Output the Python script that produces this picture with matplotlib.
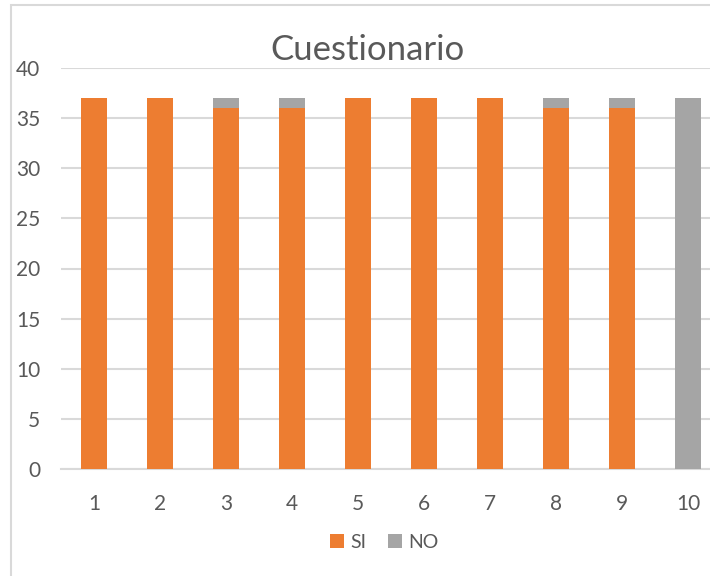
import matplotlib
matplotlib.use("Agg")
import matplotlib.pyplot as plt
from matplotlib.patches import Rectangle
import numpy as np

# data
preguntas = ["1", "2", "3", "4", "5", "6", "7", "8", "9", "10"]
si = [37, 37, 36, 36, 37, 37, 37, 36, 36, 0]
no = [0, 0, 1, 1, 0, 0, 0, 1, 1, 37]
y_ticks = [0, 5, 10, 15, 20, 25, 30, 35, 40]

plt.rcParams['font.family'] = ['Lato', 'DejaVu Sans']

fig = plt.figure(figsize=(7.1, 5.76), dpi=100)
# chart frame (partly cropped in the original)
fig.patches.append(Rectangle((11 / 710, -0.1), 1.2, 0.1 + (576 - 5) / 576,
                             transform=fig.transFigure, fill=False,
                             edgecolor="#D9D9D9", linewidth=1.5))

ax = fig.add_axes([61 / 710, 107 / 576, 660 / 710, 401 / 576])
x = np.arange(len(preguntas))
ax.bar(x, si, width=0.4, color="#ED7D31", label="SI", zorder=3)
ax.bar(x, no, width=0.4, bottom=si, color="#A5A5A5", label="NO", zorder=3)

ax.set_xlim(-0.5, len(preguntas) - 0.5)
ax.set_ylim(0, 40)
ax.set_yticks(y_ticks)
ax.set_xticks(x)
ax.set_xticklabels(preguntas)
ax.tick_params(axis="both", length=0, labelsize=15, labelcolor="#595959")
ax.tick_params(axis="y", pad=15)
ax.tick_params(axis="x", pad=18)
ax.grid(axis="y", color="#D9D9D9", linewidth=1.5, zorder=0)
for s in ["top", "right", "left"]:
    ax.spines[s].set_visible(False)
ax.spines["bottom"].set_color("#D9D9D9")
ax.spines["bottom"].set_linewidth(1.5)

fig.text(367 / 710, (576 - 50) / 576, "Cuestionario", ha="center", va="center",
         fontsize=25, color="#595959")

fig.legend(loc="center", bbox_to_anchor=(384 / 710, (576 - 542) / 576), ncol=2,
           frameon=False, fontsize=14, labelcolor="#595959", handlelength=0.75,
           handleheight=0.75, handletextpad=0.3, columnspacing=1.1)

fig.savefig("out.png", dpi=100)
